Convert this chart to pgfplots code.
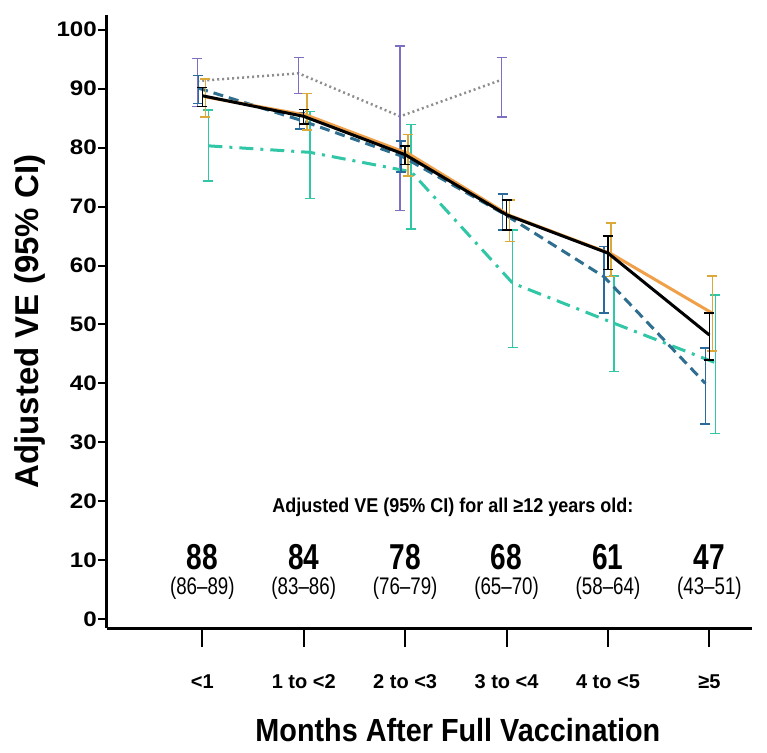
\documentclass[border=0pt]{standalone}
\usepackage{pgfplots}
\pgfplotsset{compat=1.18}
\usepackage{pgfplotstable}
\usepackage{fontspec}
\setmainfont{Liberation Sans}
\newfontfamily\narrowfont[FakeStretch=0.78]{Liberation Sans}
\newfontfamily\semifont[FakeStretch=0.9]{Liberation Sans}
\newfontfamily\widefont[FakeStretch=1.15]{Liberation Sans}

\definecolor{veorange}{HTML}{EFA048}
\definecolor{veorangebar}{HTML}{DDA83A}
\definecolor{veblue}{HTML}{2E6E8E}
\definecolor{vebluebar}{HTML}{2B6B9B}
\definecolor{veteal}{HTML}{30C6A6}
\definecolor{vegray}{HTML}{8E8E8E}
\definecolor{vepurple}{HTML}{7F6FC0}

% columns: x (with small dodge), estimate, upper CI, lower CI
\pgfplotstableread{
x y hi lo
-0.05 91.3 95.1 87.0
0.95 92.6 95.3 89.2
1.95 85.3 97.2 69.3
2.95 91.5 95.3 85.2
}\grayvals

\pgfplotstableread{
x y hi lo
0.06 80.3 86.4 74.3
1.06 79.2 86.1 71.4
2.06 75.9 83.9 66.2
3.06 57.0 66.0 46.1
4.06 50.2 58.2 42.0
5.06 43.5 55.0 31.5
}\tealvals

\pgfplotstableread{
x y hi lo
-0.04 90.1 92.2 87.5
0.96 84.7 86.0 83.2
1.96 78.6 81.1 75.9
2.96 68.9 72.1 66.0
3.96 58.1 63.2 51.9
4.96 40.0 46.0 33.1
}\bluevals

\pgfplotstableread{
x y hi lo
0.03 88.6 91.6 85.2
1.03 85.5 89.2 83.0
2.03 79.0 82.2 75.2
3.03 68.5 71.1 64.1
4.03 62.0 67.2 58.1
5.03 51.9 58.2 45.5
}\orangevals

\pgfplotstableread{
x y hi lo
0 88.8 90.2 87.0
1 85.3 86.5 84.0
2 78.8 80.3 77.1
3 68.6 71.1 66.0
4 62.1 65.0 59.3
5 48.2 51.9 44.0
}\blackvals

\tikzset{cap/.style={line width=1.5pt, mark size=5pt, rotate=90, solid, #1}}

\begin{document}
\begin{tikzpicture}
\begin{axis}[
  scale only axis, width=645pt, height=613pt,
  xmin=-0.94, xmax=5.42, ymin=-1.5, ymax=102.5,
  axis lines=left,
  axis line style={-, line width=3pt},
  x axis line style={line width=3pt},
  y axis line style={line width=3pt},
  tick align=outside, major tick length=9pt,
  tick style={black, line width=2pt},
  xtick style={/pgfplots/major tick length=19pt},
  xtick={0,...,5},
  xticklabels={<1, 1 to <2, 2 to <3, 3 to <4, 4 to <5, ≥5},
  ytick={0,10,...,100},
  /pgf/number format/assume math mode=true,
  yticklabel style={font=\widefont\bfseries\fontsize{21}{21}\selectfont, inner sep=1pt},
  xticklabel style={font=\bfseries\fontsize{20}{20}\selectfont, anchor=center, yshift=-45pt},
  ylabel={Adjusted VE (95\% CI)},
  ylabel style={font=\bfseries\fontsize{33}{33}\selectfont, at={(axis description cs:-0.119,0.5)}, anchor=center},
  xlabel={Months After Full Vaccination},
  xlabel style={font=\semifont\bfseries\fontsize{32}{32}\selectfont, at={(axis description cs:0.544,-0.166)}, anchor=center},
  clip=false,
]
\addplot[vegray, line width=2.5pt, dash pattern=on 2pt off 3pt, mark=none,
  error bars/.cd, y dir=both, y explicit,
  error bar style={vepurple, line width=1.5pt, solid}, error mark options={cap=vepurple}]
  table[x=x, y=y, y error plus expr=\thisrow{hi}-\thisrow{y}, y error minus expr=\thisrow{y}-\thisrow{lo}] {\grayvals};
\addplot[veteal, line width=3pt, dash pattern=on 14pt off 7pt on 3pt off 7pt, mark=none,
  error bars/.cd, y dir=both, y explicit,
  error bar style={veteal, line width=1.5pt, solid}, error mark options={cap=veteal}]
  table[x=x, y=y, y error plus expr=\thisrow{hi}-\thisrow{y}, y error minus expr=\thisrow{y}-\thisrow{lo}] {\tealvals};
\addplot[veblue, line width=3pt, dash pattern=on 10pt off 6pt, mark=none,
  error bars/.cd, y dir=both, y explicit,
  error bar style={vebluebar, line width=1.5pt, solid}, error mark options={cap=vebluebar}]
  table[x=x, y=y, y error plus expr=\thisrow{hi}-\thisrow{y}, y error minus expr=\thisrow{y}-\thisrow{lo}] {\bluevals};
\addplot[veorange, line width=3pt, mark=none,
  error bars/.cd, y dir=both, y explicit,
  error bar style={veorangebar, line width=1.5pt, solid}, error mark options={cap=veorangebar}]
  table[x=x, y=y, y error plus expr=\thisrow{hi}-\thisrow{y}, y error minus expr=\thisrow{y}-\thisrow{lo}] {\orangevals};
\addplot[black, line width=3pt, mark=none,
  error bars/.cd, y dir=both, y explicit,
  error bar style={black, line width=1.5pt, solid}, error mark options={cap=black}]
  table[x=x, y=y, y error plus expr=\thisrow{hi}-\thisrow{y}, y error minus expr=\thisrow{y}-\thisrow{lo}] {\blackvals};

\node[font=\semifont\bfseries\fontsize{20}{20}\selectfont, anchor=center] at (axis cs:2.47,19.0) {Adjusted VE (95\% CI) for all ≥12 years old:};
\tikzset{bignum/.style={font=\narrowfont\bfseries\fontsize{36}{36}\selectfont, anchor=center},
         cinum/.style={font=\narrowfont\fontsize{24}{24}\selectfont, anchor=center}}
\node[bignum] at (axis cs:0,10.5) {88};
\node[bignum] at (axis cs:1,10.5) {84};
\node[bignum] at (axis cs:2,10.5) {78};
\node[bignum] at (axis cs:3,10.5) {68};
\node[bignum] at (axis cs:4,10.5) {61};
\node[bignum] at (axis cs:5,10.5) {47};
\node[cinum] at (axis cs:0,5.2) {(86–89)};
\node[cinum] at (axis cs:1,5.2) {(83–86)};
\node[cinum] at (axis cs:2,5.2) {(76–79)};
\node[cinum] at (axis cs:3,5.2) {(65–70)};
\node[cinum] at (axis cs:4,5.2) {(58–64)};
\node[cinum] at (axis cs:5,5.2) {(43–51)};
\end{axis}
\pgfresetboundingbox
\path (-107pt,-124pt) rectangle (660pt,628pt);
\end{tikzpicture}
\end{document}
